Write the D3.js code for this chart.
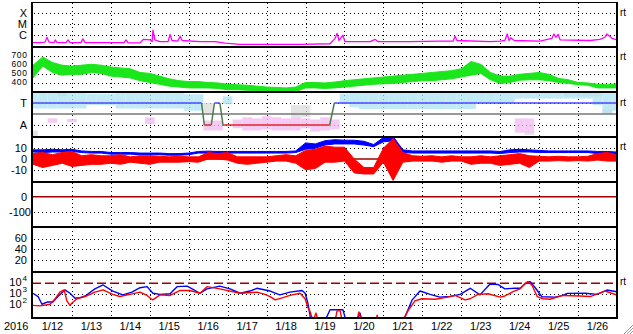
<!DOCTYPE html>
<html>
<head>
<meta charset="utf-8">
<script src="https://cdn.jsdelivr.net/npm/d3@7"></script>
<style>
body { margin: 0; background: #fff; }
svg { display: block; font-family: "Liberation Sans", Arial, sans-serif; font-size: 11px; }
</style>
</head>
<body>
<svg id="chart" width="633" height="334"></svg>
<script>
// ---- data: time is day of January 2016 (fractional) ----

// 6-hourly samples, 1/12 00:00 .. 1/27 00:00
var sixHourly = d3.range(12, 27.01, 0.25);

// GOES x-ray (log10 W/m2)
var xrayDays = [12.00, 12.18, 12.31, 12.36, 12.41, 12.54, 12.57, 12.62, 12.85, 12.90, 12.95, 13.23, 13.28, 13.34, 13.72,
  14.34, 14.39, 14.44, 14.75, 14.83, 15.01, 15.06, 15.08, 15.13, 15.26, 15.47, 15.52, 15.57, 15.72, 15.78, 15.83,
  16.29, 16.68, 16.93, 17.32, 18.86, 19.63, 19.76, 19.81, 19.86, 19.96, 20.01, 20.66, 20.79, 20.86, 21.68, 22.45,
  22.79, 22.84, 22.89, 23.74, 24.00, 24.12, 24.18, 24.23, 24.27, 24.36, 25.02, 25.33, 25.38, 25.43, 25.49, 25.54,
  26.31, 26.56, 26.69, 26.74, 26.87, 27.00];
var xrayLog = [-6.7, -6.7, -6.65, -6.2, -6.65, -6.7, -6.45, -6.7, -6.7, -6.45, -6.7, -6.7, -6.35, -6.7, -6.7,
  -6.7, -6.45, -6.72, -6.72, -6.4, -6.45, -6.6, -5.55, -6.45, -6.6, -6.6, -5.95, -6.5, -6.55, -6.1, -6.5,
  -6.6, -6.6, -6.75, -6.85, -6.85, -6.8, -6.3, -5.85, -6.5, -6.0, -6.6, -6.6, -6.4, -6.6, -6.6, -6.55,
  -6.55, -6.1, -6.5, -6.6, -6.55, -6.5, -5.9, -6.5, -6.25, -6.5, -6.55, -6.3, -5.9, -6.2, -5.95, -6.45,
  -6.5, -6.4, -6.2, -5.9, -6.3, -6.45];

// solar wind speed band (km/s)
var speedLo = [460, 590, 520, 490, 500, 500, 520, 510, 480, 470, 460, 430, 410, 390, 370, 360, 350, 350, 350, 345,
  330, 330, 325, 320, 310, 305, 305, 310, 350, 350, 345, 350, 360, 370, 380, 390, 395, 400, 410, 420,
  430, 430, 440, 450, 470, 490, 510, 440, 400, 410, 435, 440, 440, 430, 410, 400, 385, 380, 350, 350, 350];
var speedHi = [600, 690, 630, 600, 590, 600, 610, 600, 580, 570, 560, 520, 510, 480, 450, 430, 420, 420, 410, 405,
  390, 385, 380, 370, 360, 355, 350, 360, 410, 410, 405, 415, 430, 440, 450, 460, 470, 480, 490, 500,
  510, 520, 530, 540, 560, 640, 610, 520, 480, 480, 500, 510, 520, 500, 455, 440, 410, 405, 390, 385, 395];

// IMF sector: +1 toward (T), -1 away (A)
var sectorDays = [12.0, 16.33, 16.40, 16.58, 16.66, 16.80, 16.88, 19.62, 19.74, 27.0];
var sectorLevel = [1, 1, -1, -1, 1, 1, -1, -1, 1, 1];
var skyLo = [0.5, 0.5, 0.5, 0.5, 0.5, 0.5, 0.8, 0.8, 0.8, 0.5, 0.5, 0.5, 0.5, 0.5, 0.5, 0.5, 0.3, 0.3, null, null,
  0.9, null, null, null, null, null, null, null, null, null, null, null, 0.9, 0.6, 0.45, 0.45, 0.45, 0.45, 0.45, 0.45,
  0.45, 0.45, 0.45, 0.45, 0.45, 0.45, 1.0, 1.0, 1.0, 1.0, 1.4, 1.4, 1.4, 1.4, 1.4, 1.4, 1.4, 1.4, 0.8, 0.1, 0.3];
var skyHi = [1.9, 1.9, 1.9, 1.9, 1.9, 1.9, 1.85, 1.85, 1.85, 1.9, 1.9, 1.9, 1.9, 1.9, 1.9, 1.9, 1.8, 1.8, null, null,
  1.6, null, null, null, null, null, null, null, null, null, null, null, 1.85, 1.9, 1.9, 1.9, 1.9, 1.9, 1.9, 1.9,
  1.9, 1.9, 1.9, 1.9, 1.9, 1.9, 1.95, 1.95, 1.95, 1.95, 1.95, 1.95, 1.95, 1.95, 1.95, 1.95, 1.95, 1.95, 1.9, 1.9, 1.9];
var pinkLo = [null, null, -0.8, null, -0.75, null, null, null, null, null, null, null, -0.9, null, null, null, null, null, -1.5, -1.5,
  null, -1.3, -1.5, -1.5, -1.4, -1.5, -1.5, -1.5, -1.3, -1.6, -1.5, -1.4, null, null, null, null, null, null, null, null,
  null, null, null, null, null, null, null, null, null, null, -1.7, -1.7, null, null, null, null, null, null, null, null, null];
var pinkHi = [null, null, -0.4, null, -0.45, null, null, null, null, null, null, null, -0.3, null, null, null, null, null, -0.6, -0.6,
  null, -0.5, -0.3, -0.4, -0.2, -0.3, -0.4, -0.3, -0.4, -0.5, -0.3, -0.5, null, null, null, null, null, null, null, null,
  null, null, null, null, null, null, null, null, null, null, -0.4, -0.4, null, null, null, null, null, null, null, null, null];
var grayLo = [-2.0, null, null, 1.6, null, null, null, null, null, null, null, null, null, null, null, null, null, null, 0.1, null,
  null, null, null, null, null, null, null, -0.3, -0.3, null, null, null, null, null, null, null, null, null, null, null,
  null, null, null, null, null, null, null, null, null, null, null, -1.9, null, null, null, 1.6, 1.6, 1.6, 1.6, 0.0, null];
var grayHi = [-1.5, null, null, 1.9, null, null, null, null, null, null, null, null, null, null, null, null, null, null, 1.0, null,
  null, null, null, null, null, null, null, 0.8, 0.8, null, null, null, null, null, null, null, null, null, null, null,
  null, null, null, null, null, null, null, null, null, null, null, -1.6, null, null, null, 1.95, 1.95, 1.95, 1.95, 0.4, null];

// IMF Bt and Bz bands (nT)
var btLo = [6.5, 6, 6.5, 6.5, 7, 6, 5.5, 5.5, 4.5, 4.5, 4.5, 4, 4, 4, 3.5, 3.5, 4, 5.5, 5.5, 5.5,
  5.5, 5.5, 5.5, 5.5, 5.5, 5.5, 5.5, 6, 9, 10, 13, 14, 14, 14, 13, 11.5, 16, 17, 6, 5.5,
  5.5, 5.5, 5.5, 5.5, 5.5, 5.5, 5.5, 5.5, 5, 6, 6.5, 6.5, 6, 6, 6, 6, 6, 6, 5, 4, 4];
var btHi = [8.5, 8.5, 9, 8.5, 9, 7.5, 7, 7, 6, 6, 6, 5.5, 5.5, 5.5, 5, 5, 5.5, 7, 7.3, 7,
  7, 7, 7, 7, 7, 7, 7, 7.5, 15, 14, 17, 18, 17.5, 17.5, 16.5, 13.5, 20, 21, 8.5, 7.5,
  7.5, 7.5, 7.5, 7.5, 7.5, 7.5, 7.5, 7.5, 7, 8.5, 9, 8.5, 8, 7.5, 7.5, 7.5, 7.5, 7.5, 7, 7, 6.5];
var bzLo = [-5, -8, -6, -4, -7, -6, -5, -5, -4, -5, -3, -4, -5, -3, -3, -3, -2.5, -3, 0, 0,
  -1, -4, -5, -4, -3, -2, -2, -4, -10, -9, -3, -3, -2, -13, -14, -14, -3, -20, -3, -2,
  -2, -2, -3, -2, -2, -5, -4, -4, -6, -5, -4, -8, -2, -2, -1.5, -2, -1.5, -2, -1, -2, -2];
var bzHi = [5, 6, 4, 6, 7, 3, 4, 3, 3, 4, 2, 3, 3, 2.5, 2, 2.5, 2, 2, 6, 5,
  6, 2, 2, 2, 2, 3, 4, 3, 8, 9, 12, 11, 11, 0, -8, -8, 10, 19, 6, 3,
  2.5, 3, 2, 3, 2, 2, 3, 2, 3, 4, 5, 3, 2.5, 2, 2.5, 2, 2, 2.5, 5, 6, 4];

// electron flux (log10), two channels
var elecBlueDays = [12.00, 12.13, 12.23, 12.36, 12.51, 12.64, 12.82, 12.95, 13.08, 13.21, 13.34, 13.59, 13.80, 14.05, 14.31,
  14.54, 14.75, 14.93, 15.08, 15.26, 15.52, 15.70, 15.96, 16.29, 16.47, 16.80, 17.06, 17.32, 17.57, 17.75, 18.09,
  18.34, 18.60, 18.91, 18.99, 19.06, 19.14, 19.50, 19.63, 19.96, 20.04, 20.32, 20.40, 20.45, 21.43, 21.56, 21.74,
  21.94, 22.20, 22.45, 22.71, 22.97, 23.23, 23.48, 23.74, 23.94, 24.12, 24.38, 24.51, 24.69, 24.77, 24.90, 25.07,
  25.41, 25.61, 25.72, 26.18, 26.49, 26.74, 27.00];
var elecBlueLog = [3.1, 2.8, 2.1, 2.3, 2.3, 2.8, 3.4, 3.1, 2.65, 2.7, 2.85, 3.5, 3.85, 3.3, 2.95,
  3.2, 3.6, 3.7, 3.1, 3.0, 3.05, 3.7, 3.75, 3.1, 3.5, 3.75, 3.5, 3.1, 3.3, 3.55, 3.3,
  2.95, 3.2, 3.35, 3.1, 2.2, 0.6, 0.6, 1.6, 1.6, 0.6, 0.6, 1.3, 0.6, 0.6, 1.0, 2.5,
  3.3, 3.0, 2.75, 2.8, 3.0, 3.55, 2.95, 3.94, 3.9, 3.5, 3.55, 3.55, 4.1, 4.15, 3.6, 2.78,
  2.75, 2.9, 3.09, 3.1, 3.0, 3.39, 3.24];
var elecRedDays = [12.00, 12.18, 12.44, 12.57, 12.69, 12.80, 12.87, 12.95, 13.03, 13.13, 13.34, 13.59, 13.80, 14.05, 14.23,
  14.49, 14.75, 14.93, 15.03, 15.08, 15.26, 15.52, 15.78, 16.03, 16.29, 16.47, 16.80, 17.32, 17.75, 17.96, 18.09,
  18.22, 18.42, 18.60, 18.86, 18.99, 19.06, 19.12, 19.19, 19.27, 19.32, 19.76, 19.81, 19.89, 19.94, 20.32, 20.37,
  20.43, 20.81, 20.84, 20.86, 21.50, 21.63, 21.81, 21.99, 22.33, 22.58, 22.84, 23.10, 23.23, 23.43, 23.69, 24.00,
  24.12, 24.33, 24.51, 24.64, 24.72, 24.82, 24.95, 25.10, 25.28, 25.61, 26.05, 26.31, 26.69, 27.00];
var elecRedLog = [2.0, 1.95, 2.1, 2.6, 3.2, 3.4, 2.4, 2.0, 2.3, 2.6, 2.8, 3.2, 3.4, 3.0, 2.8,
  3.0, 3.2, 2.9, 2.6, 2.5, 2.95, 2.9, 3.35, 3.35, 3.1, 3.7, 3.5, 3.1, 3.2, 3.0, 2.8,
  2.5, 2.7, 2.9, 3.1, 2.6, 1.8, 1.4, 0.6, 1.3, 0.6, 0.6, 1.5, 1.5, 0.6, 0.6, 1.4,
  0.6, 0.6, 1.1, 0.6, 0.6, 1.5, 2.4, 2.6, 2.55, 2.7, 2.9, 2.5, 2.6, 3.0, 3.05, 2.75,
  2.85, 3.24, 3.5, 4.0, 4.15, 3.8, 2.8, 2.6, 2.55, 2.9, 2.85, 2.8, 3.3, 2.94];

// tick labels
var dayTicks = d3.range(12, 27);
var xrayTicks = [{v: -4, t: "X"}, {v: -5, t: "M"}, {v: -6, t: "C"}];
var speedTicks = [700, 600, 500, 400];
var sectorTicks = [{v: 1, t: "T"}, {v: -1, t: "A"}];
var bTicks = [10, 0, -10];
var dstTicks = [0, -100];
var kpTicks = [60, 40, 20];
var elecTicks = [4, 3, 2];

// ---- layout ----
var svg = d3.select("#chart");
var L = 32, R = 617;
var seps = [47, 92, 137, 182, 227, 272];

function day(d) { return new Date(Date.UTC(2016, 0, 1) + (d - 1) * 864e5); }
var x = d3.scaleUtc().domain([day(12), day(27)]).range([33, 617]);

var yXray = d3.scaleLog().domain([Math.pow(10, -7.1), Math.pow(10, -2.95)]).range([47, 2]);
var ySpeed = d3.scaleLinear().domain([300, 800]).range([92.5, 47]);
var ySec = d3.scaleLinear().domain([-2.09, 2]).range([137, 92]);
var yB = d3.scaleLinear().domain([-21.5, 20.5]).range([182, 137]);
var yDst = d3.scaleLinear().domain([-194, 94]).range([227, 182]);
var yKp = d3.scaleLinear().domain([-2.3, 81.4]).range([272, 227]);
var yElec = d3.scaleLog().domain([Math.pow(10, 0.85), Math.pow(10, 5.03)]).range([318, 272]);
function pow10(v) { return Math.pow(10, v); }

var defs = svg.append("defs");
function clip(id, y0, y1) {
  defs.append("clipPath").attr("id", id).append("rect")
    .attr("x", L).attr("y", y0).attr("width", R - L).attr("height", y1 - y0);
  return "url(#" + id + ")";
}

// dotted grid
var grid = svg.append("g").attr("stroke", "#000").attr("stroke-dasharray", "1,3")
  .attr("shape-rendering", "crispEdges");
dayTicks.slice(1).forEach(function (d) {
  var px = Math.round(x(day(d))) + 0.5;
  grid.append("line").attr("x1", px).attr("x2", px).attr("y1", 3).attr("y2", 317);
});
function hgrid(yv) {
  var py = Math.round(yv) + 0.5;
  grid.append("line").attr("x1", 34).attr("x2", 616).attr("y1", py).attr("y2", py);
}
xrayTicks.forEach(function (t) { hgrid(yXray(pow10(t.v))); });
speedTicks.forEach(function (v) { hgrid(ySpeed(v)); });
sectorTicks.forEach(function (t) { hgrid(ySec(t.v)); });
[10, -10].forEach(function (v) { hgrid(yB(v)); });
hgrid(yDst(-100));
kpTicks.forEach(function (v) { hgrid(yKp(v)); });
[3, 2].forEach(function (v) { hgrid(yElec(pow10(v))); });

// reference lines
var ref = svg.append("g").attr("stroke", "#a00000").attr("stroke-width", 1.5);
ref.append("line").attr("x1", L).attr("x2", R).attr("y1", yB(0)).attr("y2", yB(0));
ref.append("line").attr("x1", L).attr("x2", R).attr("y1", yDst(0)).attr("y2", yDst(0));
ref.append("line").attr("x1", L).attr("x2", R).attr("y1", yElec(1e4)).attr("y2", yElec(1e4))
  .attr("stroke-dasharray", "9,4");

// helpers
function band(days, lo, hi, y, color, clipUrl) {
  var area = d3.area()
    .defined(function (d, i) { return lo[i] != null; })
    .x(function (d, i) { return x(day(days[i])); })
    .y0(function (d, i) { return y(lo[i]); })
    .y1(function (d, i) { return y(hi[i]); });
  svg.append("path").datum(days).attr("d", area).attr("clip-path", clipUrl)
    .attr("fill", color).attr("stroke", color).attr("stroke-width", 1);
}
function series(days, vals, y, color, width, clipUrl) {
  var line = d3.line()
    .x(function (d, i) { return x(day(days[i])); })
    .y(function (d, i) { return y(vals[i]); });
  svg.append("path").datum(days).attr("d", line).attr("clip-path", clipUrl)
    .attr("fill", "none").attr("stroke", color).attr("stroke-width", width)
    .attr("stroke-linejoin", "round");
}
function columns(days, lo, hi, color, opacity, clipUrl) {
  var g = svg.append("g").attr("clip-path", clipUrl).attr("fill", color).attr("fill-opacity", opacity);
  days.forEach(function (d, i) {
    if (lo[i] == null) return;
    var x0 = x(day(d - 0.125)), x1 = x(day(d + 0.125));
    g.append("rect").attr("x", x0).attr("width", x1 - x0)
      .attr("y", ySec(hi[i])).attr("height", ySec(lo[i]) - ySec(hi[i]));
  });
}

// panel 1: x-ray
series(xrayDays, xrayLog, function (v) { return yXray(pow10(v)); }, "#ff00ff", 1.3, clip("c1", 2, 47));

// panel 2: speed
band(sixHourly, speedLo, speedHi, ySpeed, "#1be61b", clip("c2", 47, 92));

// panel 3: sector
var c3 = clip("c3", 92, 137);
columns(sixHourly, grayLo, grayHi, "#d8d8d8", 0.7, c3);
columns(sixHourly, pinkLo, pinkHi, "#f2b8f0", 0.75, c3);
columns(sixHourly, skyLo, skyHi, "#aee2f3", 0.75, c3);
svg.append("line").attr("x1", L).attr("x2", R).attr("y1", ySec(0)).attr("y2", ySec(0))
  .attr("stroke", "#777").attr("stroke-width", 1.5);
for (var i = 0; i < sectorDays.length - 1; i++) {
  var a = sectorLevel[i], b = sectorLevel[i + 1];
  var col = a === b ? (a > 0 ? "#4a4aff" : "#e02828") : "#4c7c4c";
  svg.append("line")
    .attr("x1", x(day(sectorDays[i]))).attr("x2", x(day(sectorDays[i + 1])))
    .attr("y1", ySec(a)).attr("y2", ySec(b))
    .attr("stroke", col).attr("stroke-width", 1.5);
}

// panel 4: IMF
var c4 = clip("c4", 137, 182);
band(sixHourly, btLo, btHi, yB, "#0000ff", c4);
band(sixHourly, bzLo, bzHi, yB, "#ff0000", c4);

// panel 7: electrons
var c7 = clip("c7", 272, 318);
var yE = function (v) { return yElec(pow10(v)); };
series(elecBlueDays, elecBlueLog, yE, "#0000ff", 1.4, c7);
series(elecRedDays, elecRedLog, yE, "#ff0000", 1.4, c7);

// frame and separators
var frame = svg.append("g").attr("stroke", "#000").attr("shape-rendering", "crispEdges");
frame.append("line").attr("x1", L - 1).attr("x2", R + 1).attr("y1", 2.5).attr("y2", 2.5).attr("stroke-width", 1);
seps.forEach(function (s) {
  frame.append("line").attr("x1", L - 1).attr("x2", R + 1).attr("y1", s).attr("y2", s).attr("stroke-width", 2);
});
frame.append("line").attr("x1", L - 1).attr("x2", R + 1).attr("y1", 318).attr("y2", 318).attr("stroke-width", 2);
frame.append("line").attr("x1", L).attr("x2", L).attr("y1", 2).attr("y2", 319).attr("stroke-width", 2);
frame.append("line").attr("x1", R).attr("x2", R).attr("y1", 2).attr("y2", 319).attr("stroke-width", 2);

// left labels
var lab = svg.append("g").attr("text-anchor", "end").attr("fill", "#000");
function label(y, t, px, size) {
  var el = lab.append("text").attr("x", px || 27).attr("y", y).attr("dy", "0.35em").text(t);
  if (size) el.attr("font-size", size).attr("letter-spacing", 0.6);
}
xrayTicks.forEach(function (t) { label(yXray(pow10(t.v)), t.t); });
speedTicks.forEach(function (v) { label(ySpeed(v) - 1, v, 27.5, 8.5); });
sectorTicks.forEach(function (t) { label(ySec(t.v), t.t); });
bTicks.forEach(function (v) { label(yB(v), v); });
dstTicks.forEach(function (v) { label(yDst(v), v, v === -100 ? 31 : 27); });
kpTicks.forEach(function (v) { label(yKp(v), v); });
elecTicks.forEach(function (v) {
  var t = lab.append("text").attr("x", 27).attr("y", yElec(pow10(v)) - 1).attr("dy", "0.35em");
  t.append("tspan").text("10");
  t.append("tspan").attr("dx", 1).attr("dy", -5).attr("font-size", 8).text(v);
});

// right "rt" marks
[12, 56, 102, 146, 281].forEach(function (y) {
  svg.append("text").attr("x", 620).attr("y", y).attr("dy", "0.35em").attr("font-size", 10).text("rt");
});

// bottom date labels
var xl = svg.append("g");
xl.append("text").attr("x", 4).attr("y", 330).text("2016");
dayTicks.forEach(function (d) {
  xl.append("text").attr("x", x(day(d + 0.5))).attr("y", 330).attr("text-anchor", "middle")
    .text("1/" + d);
});

// window resize grip
var grip = svg.append("g").attr("stroke", "#999").attr("stroke-width", 1);
[[624, 334, 633, 325], [627, 334, 633, 328], [630, 334, 633, 331]].forEach(function (p) {
  grip.append("line").attr("x1", p[0]).attr("y1", p[1]).attr("x2", p[2]).attr("y2", p[3]);
});
</script>
</body>
</html>
